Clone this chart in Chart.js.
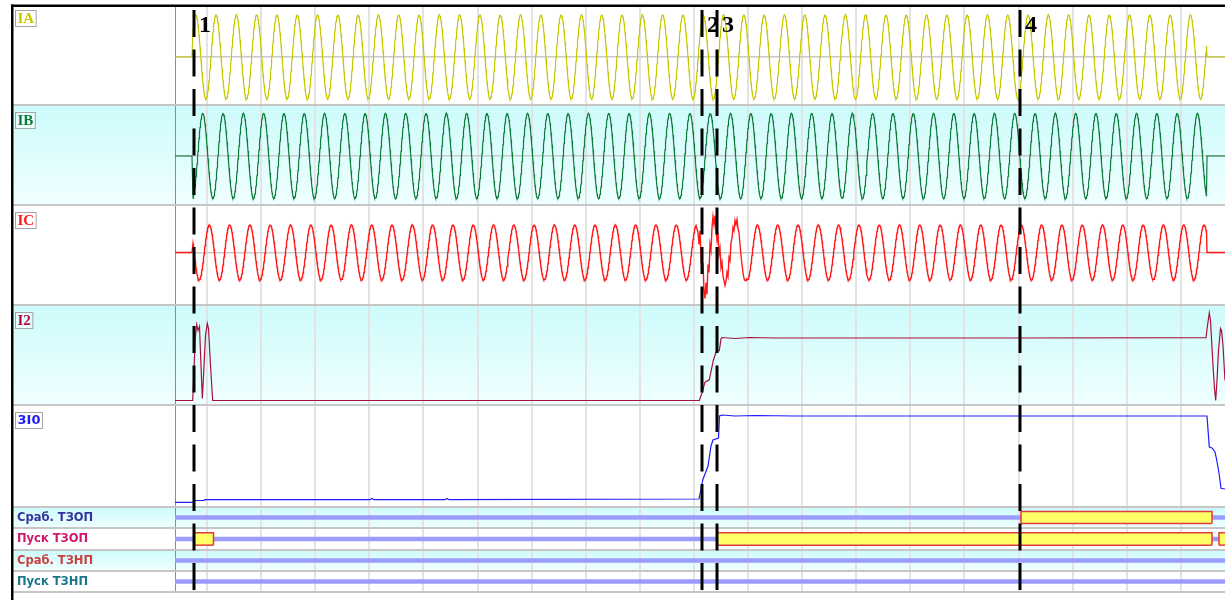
<!DOCTYPE html>
<html lang="ru">
<head>
  <meta charset="UTF-8" />
  <title>Осциллограмма - ТЗОП / ТЗНП</title>
  <style>
    body { margin: 0; background: #fff; }
    #wrap { width: 1225px; height: 600px; }
  </style>
  <script src="https://cdn.jsdelivr.net/npm/chart.js"></script>
</head>
<body>
  <div id="wrap"><canvas id="osc" width="1225" height="600"></canvas></div>
  <script>
    // time axis, ms from the left edge of the plot
    const gridTimes = [32, 86, 140, 194, 248, 303, 357, 411, 465, 519, 573, 627, 681, 735, 789, 844, 898, 952, 1006];
    const markerTimes = [19, 527, 542, 845];
    const markerLabels = ['1', '2', '3', '4'];

    // phase currents: amplitude, time of a positive peak, period, on/off
    const analogNames = ['IA', 'IB', 'IC', 'I2', '3I0'];
    const phaseAmp = [42, 42.5, 27.5];
    const phasePeakAt = [20.7, 27.7, 34.3];
    const phasePeriod = 20.3;
    const phaseOn = 18;
    const phaseOff = 1031.5;

    // IC during the fault (points 2 and 3)
    const icFaultT = [521, 523, 524, 525, 526, 527, 528, 529, 530, 531, 532, 533, 534, 535, 536, 537, 538, 539, 540, 541,
                      542, 543, 544, 545, 546, 547, 548, 549, 550, 551, 552, 553, 554, 555, 556, 557, 558, 559, 560, 561,
                      562, 563, 564, 565, 566, 567, 568, 569, 570, 571];
    const icFaultV = [27, 20, 8, 22, -5, -20, -10, -38, -46, -30, -42, -12, -20, 8, 2, 25, 36, 28, 37, 22,
                      12, 20, -2, 4, -15, -10, -24, -28, -33, -29, -20, -24, -5, -8, 10, 14, 25, 22, 32, 28,
                      33, 24, 20, 8, -3, -12, -20, -26, -28, -28];

    // I2
    const i2T = [0, 17.7, 19, 20.2, 21.7, 23, 24.5, 26, 27.3, 28.8, 30.5, 32.3, 33.5, 35.5, 37.7,
                 524.3, 526.7, 530, 534.3, 538.3, 541, 544.3, 546, 547,
                 560, 575, 600, 700, 845, 1031,
                 1032.5, 1034.3, 1035.5, 1036.5, 1038, 1039.5, 1040.7, 1042, 1043.5, 1045.5, 1046.5, 1048, 1050];
    const i2V = [0, 0, 30, 62, 76, 70, 74, 35, 2, 30, 65, 77, 72, 35, 0,
                 0, 6.7, 18.3, 20.7, 40, 48.3, 50, 61.7, 63,
                 62, 63, 62.5, 62.5, 62.5, 62.8,
                 75, 87.5, 80, 62, 35, 12, 0, 20, 50, 72, 70, 55, 20];

    // 3I0
    const i0T = [0, 18, 19, 29, 30, 195, 197, 199, 270, 272, 274,
                 524, 526, 528, 530, 533, 536, 538, 543.5, 544.5, 547,
                 560, 580, 620, 700, 1032,
                 1034.3, 1037, 1040, 1041.7, 1044, 1046, 1050];
    const i0V = [-1.3, -1.3, 0.5, 0.5, 1.3, 1.3, 2.5, 1.3, 1.3, 2.5, 1.3,
                 2, 12, 22, 27, 35, 55, 61, 63, 85, 86,
                 85, 85.5, 85, 85, 85,
                 54, 53, 49, 41, 28, 12.7, 12];

    // discrete signals, active intervals
    const digitalNames = ['Сраб. ТЗОП', 'Пуск ТЗОП', 'Сраб. ТЗНП', 'Пуск ТЗНП'];
    const digitalOn = [
      [[846, 1037]],
      [[19, 38.5], [542, 1037], [1044, 1062]],
      [],
      []
    ];

    // layout of the rows
    const rowIds = ['yIA', 'yIB', 'yIC', 'yI2', 'y3I0', 'yD0', 'yD1', 'yD2', 'yD3'];
    const rowWeight = [98, 100, 100, 100, 102, 21, 22, 21, 21];
    const rowMin = [-48, -49, -52.5, -4.5, -6, 0, 0, 0, 0];
    const rowMax = [50, 51, 47.5, 95.5, 96, 1, 1, 1, 1];
    const rowTint = [false, true, false, true, false, true, false, true, false];
    const analogColors = ['#c8c800', '#0e7a3c', '#ff1a1a', '#a8103c', '#1c1cff'];
    const digitalColors = ['#34349c', '#d0186a', '#c84040', '#1a7688'];

    function phaseWave(k) {
      const pts = [];
      for (let t = 0; t <= 1050; t += 0.5) {
        let v = 0;
        if (t >= phaseOn && t <= phaseOff) {
          v = phaseAmp[k] * Math.cos(2 * Math.PI * (t - phasePeakAt[k]) / phasePeriod);
        }
        pts.push({ x: t, y: v });
      }
      return pts;
    }

    function zipPts(ts, vs) {
      return ts.map((t, i) => ({ x: t, y: vs[i] }));
    }

    const icPts = phaseWave(2).filter(p => p.x < icFaultT[0] || p.x > icFaultT[icFaultT.length - 1]);
    const icAll = icPts.concat(zipPts(icFaultT, icFaultV)).sort((a, b) => a.x - b.x);

    const analogData = [phaseWave(0), phaseWave(1), icAll, zipPts(i2T, i2V), zipPts(i0T, i0V)];

    const datasets = [];
    analogData.forEach((d, i) => {
      datasets.push({
        data: d, yAxisID: rowIds[i], xAxisID: 'x',
        borderColor: analogColors[i], borderWidth: i === 2 ? 1.4 : 1.2,
        pointRadius: 0, fill: false, tension: 0, order: 5
      });
    });

    digitalNames.forEach((name, r) => {
      const yId = rowIds[5 + r];
      datasets.push({
        data: [{ x: 0, y: 0.5 }, { x: 1050, y: 0.5 }], yAxisID: yId, xAxisID: 'x',
        borderColor: '#9c9cff', borderWidth: 4.5, pointRadius: 0, fill: false, order: 10
      });
      digitalOn[r].forEach(([a, b]) => {
        datasets.push({
          data: [{ x: a, y: 0.22 }, { x: a, y: 0.78 }, { x: b, y: 0.78 }, { x: b, y: 0.22 }],
          yAxisID: yId, xAxisID: 'x',
          borderColor: '#e03c3c', borderWidth: 1.5, backgroundColor: '#ffff66',
          fill: { value: 0.22 }, pointRadius: 0, order: 1
        });
        datasets.push({
          data: [{ x: a, y: 0.22 }, { x: b, y: 0.22 }],
          yAxisID: yId, xAxisID: 'x',
          borderColor: '#e03c3c', borderWidth: 1.5, fill: false, pointRadius: 0, order: 0
        });
      });
    });

    const scales = {
      x: {
        type: 'linear', position: 'bottom', min: 0, max: 1050,
        ticks: { display: false },
        grid: { color: '#e3e3e3', lineWidth: 2, drawTicks: false },
        border: { display: false },
        afterBuildTicks: s => { s.ticks = gridTimes.map(v => ({ value: v })); }
      }
    };
    rowIds.forEach((id, i) => {
      scales[id] = {
        type: 'linear', position: 'left', stack: 'rows',
        stackWeight: rowWeight[i], weight: 100 - i,
        min: rowMin[i], max: rowMax[i],
        ticks: { display: false },
        grid: { display: i < 3, color: '#c9c9c9', lineWidth: 1.5, drawTicks: false },
        border: { display: true, color: '#8c8c8c', width: 1 },
        afterBuildTicks: s => { s.ticks = [{ value: 0 }]; },
        afterFit: s => { s.width = 163; }
      };
    });

    const panels = {
      id: 'panels',
      beforeDraw(chart) {
        const ctx = chart.ctx;
        ctx.save();
        ctx.fillStyle = '#fff';
        ctx.fillRect(0, 0, chart.width, chart.height);
        rowIds.forEach((id, i) => {
          if (!rowTint[i]) return;
          const s = chart.scales[id];
          const g = ctx.createLinearGradient(0, s.top, 0, s.bottom);
          g.addColorStop(0, '#cdfbfb');
          g.addColorStop(1, '#f0ffff');
          ctx.fillStyle = g;
          ctx.fillRect(13, s.top, chart.width - 13, s.bottom - s.top);
        });
        ctx.restore();
      },
      beforeDatasetsDraw(chart) {
        const ctx = chart.ctx;
        ctx.save();
        ctx.strokeStyle = '#c6c6c6';
        ctx.lineWidth = 2;
        rowIds.forEach(id => {
          const s = chart.scales[id];
          ctx.beginPath();
          ctx.moveTo(13, s.bottom);
          ctx.lineTo(chart.width, s.bottom);
          ctx.stroke();
        });
        ctx.restore();
      },
      afterDraw(chart) {
        const ctx = chart.ctx;
        const xs = chart.scales.x;
        ctx.save();

        // channel labels
        analogNames.forEach((name, i) => {
          const s = chart.scales[rowIds[i]];
          const top = s.top + (i === 0 ? 3 : 7);
          ctx.font = name === '3I0' ? 'bold 13px "DejaVu Sans"' : 'bold 15px "Liberation Serif"';
          const w = ctx.measureText(name).width + 4;
          ctx.fillStyle = 'rgba(255,255,255,0.55)';
          ctx.fillRect(15, top, w, 16);
          ctx.strokeStyle = '#a4a4a4';
          ctx.lineWidth = 1;
          ctx.strokeRect(15.5, top + 0.5, w, 16);
          ctx.fillStyle = analogColors[i];
          ctx.textBaseline = 'middle';
          ctx.textAlign = 'left';
          ctx.fillText(name, 17.5, top + 9);
        });
        digitalNames.forEach((name, r) => {
          const s = chart.scales[rowIds[5 + r]];
          ctx.font = 'bold 11.5px "DejaVu Sans"';
          ctx.fillStyle = digitalColors[r];
          ctx.textBaseline = 'middle';
          ctx.textAlign = 'left';
          ctx.fillText(name, 17, (s.top + s.bottom) / 2 + 0.5);
        });

        // event markers
        ctx.strokeStyle = '#000';
        ctx.lineWidth = 3;
        ctx.setLineDash([27, 12.5]);
        markerTimes.forEach((t, i) => {
          const x = xs.getPixelForValue(t);
          ctx.beginPath();
          ctx.moveTo(x, 10);
          ctx.lineTo(x, chart.height);
          ctx.stroke();
          ctx.font = 'bold 24px "Liberation Serif"';
          ctx.fillStyle = '#000';
          ctx.textBaseline = 'alphabetic';
          ctx.fillText(markerLabels[i], x + 5, 32);
        });
        ctx.setLineDash([]);

        // frame
        ctx.fillStyle = '#000';
        ctx.fillRect(11, 4.5, chart.width - 11, 2.5);
        ctx.fillRect(11, 4.5, 2.5, chart.height - 4.5);
        ctx.restore();
      }
    };

    new Chart(document.getElementById('osc'), {
      type: 'line',
      data: { datasets },
      options: {
        responsive: false,
        animation: false,
        events: [],
        layout: { padding: { left: 12, top: 7, right: 0, bottom: 8 } },
        scales,
        plugins: { legend: { display: false }, tooltip: { enabled: false } }
      },
      plugins: [panels]
    });
  </script>
</body>
</html>
